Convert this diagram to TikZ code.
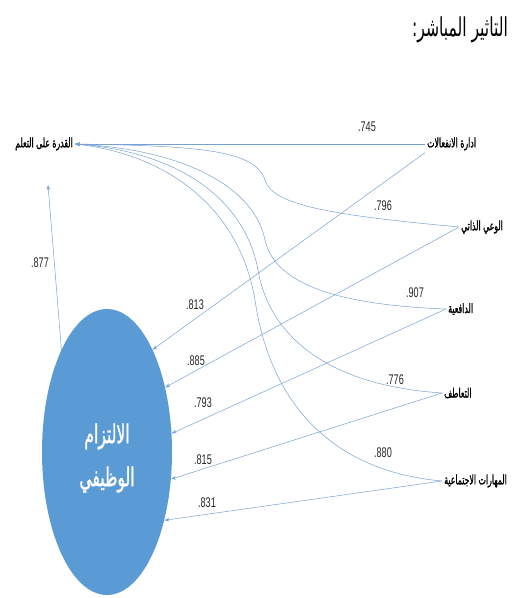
\documentclass[tikz,border=0pt]{standalone}
\usepackage{fontspec}
\usetikzlibrary{positioning}
\usetikzlibrary{shapes.geometric}
\usetikzlibrary{arrows.meta}
\TeXXeTstate=1
\newfontfamily\arabicfont[Script=Arabic,FakeStretch=0.6]{DejaVu Sans}
\newfontfamily\arabicheavy[Script=Arabic,FakeStretch=0.6,FakeBold=1.2]{DejaVu Sans}
\newfontfamily\numfont[FakeStretch=0.65]{Liberation Sans}
\definecolor{linkblue}{RGB}{120,160,210}
\definecolor{ballblue}{RGB}{91,155,213}

\tikzset{
  lab/.style={font=\arabicheavy\fontsize{13}{15}\selectfont, inner sep=2pt, anchor=west},
  num/.style={font=\numfont\fontsize{14}{16}\selectfont, text=black!85},
  conn/.style={draw=linkblue, line width=0.5pt, -{Stealth[length=5pt,width=3.5pt]}},
}

\begin{document}
\begin{tikzpicture}[x=1pt,y=-1pt]
    \useasboundingbox (0,0) rectangle (519,598);
    \node[font=\arabicfont\fontsize{26}{30}\selectfont] (title) at (460,30) {\beginR التاثير المباشر:\endR};

    \node[lab, anchor=east] (learn) at (75,144) {\beginR القدرة على التعلم\endR};
    \node[ellipse, fill=ballblue, minimum width=130pt, minimum height=286pt, inner sep=0pt,
          text=white, align=center, font=\arabicheavy\fontsize{26}{43}\selectfont]
          (commit) at (107,452) {\raisebox{-6pt}[\height][\depth]{\beginR الالتزام\endR}\\
                                 \raisebox{-6pt}[\height][\depth]{\beginR الوظيفي\endR}};

    \node[lab] (emo) at (425,144) {\beginR ادارة الانفعالات\endR};
    \node[lab] (self) at (459,227) {\beginR الوعي الذاتي\endR};
    \node[lab] (motiv) at (446,309) {\beginR الدافعية\endR};
    \node[lab] (emp) at (442,393) {\beginR التعاطف\endR};
    \node[lab] (social) at (442,481) {\beginR المهارات الاجتماعية\endR};

    \coordinate (learnin) at (48,185);

    % paths to the learning ability
    \draw[conn, line width=0.9pt] (emo.west) -- (learn.east);
    \draw[conn] (self.west) .. controls (330,215) and (272,205) .. (265,180)
        .. controls (255,150) and (200,146) .. (learn.east);
    \draw[conn] (motiv.west) .. controls (340,305) and (275,285) .. (265,240)
        .. controls (255,190) and (190,150) .. (learn.east);
    \draw[conn] (emp.west) .. controls (320,385) and (268,330) .. (258,270)
        .. controls (245,200) and (180,152) .. (learn.east);
    \draw[conn] (social.west) .. controls (320,470) and (268,390) .. (255,300)
        .. controls (240,210) and (170,155) .. (learn.east);

    % paths to the ellipse
    \draw[conn] (emo.south west) -- (commit.66);
    \draw[conn] (self.west) -- (commit.48);
    \draw[conn] (motiv.west) -- (commit.16);
    \draw[conn] (emp.west) -- (commit.-23);
    \draw[conn] (social.west) -- (commit.-50);
    \draw[conn] (commit.114) -- (learnin);

    \node[num] (l745) at (367,127) {.745};
    \node[num] (l796) at (383,206) {.796};
    \node[num] (l907) at (415,293) {.907};
    \node[num] (l776) at (395,380) {.776};
    \node[num] (l880) at (383,453) {.880};
    \node[num] (l813) at (195,305) {.813};
    \node[num] (l885) at (196,361) {.885};
    \node[num] (l793) at (203,403) {.793};
    \node[num] (l815) at (203,460) {.815};
    \node[num] (l831) at (207,503) {.831};
    \node[num] (l877) at (40,263) {.877};
\end{tikzpicture}
\end{document}
